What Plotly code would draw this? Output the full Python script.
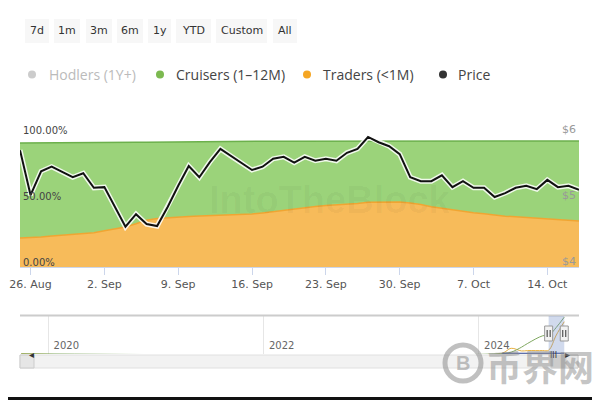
import pandas as pd
import plotly.graph_objects as go

# ------------------------------------------------------------------
# Data (daily, 25 Aug - 17 Oct 2024)
# ------------------------------------------------------------------
START_DATE = "2024-08-25"

traders = [22.0, 22.3, 22.8, 23.5, 24.2, 24.8, 25.3, 25.9, 27.5, 29.0,
           30.3, 32.8, 35.5, 36.8, 37.4, 37.9, 38.2, 38.6, 38.9, 39.2,
           39.5, 39.9, 40.2, 41.0, 42.0, 43.3, 44.2, 45.1, 45.8, 46.5,
           47.0, 47.6, 48.2, 49.1, 49.2, 49.2, 49.2, 48.5, 47.4, 45.7,
           44.5, 43.4, 42.2, 41.1, 40.3, 39.2, 38.5, 38.0, 37.5, 37.0,
           36.3, 35.7, 35.2, 34.8]

cruisers = [72.0, 71.8, 71.3, 70.7, 70.0, 69.5, 69.0, 68.5, 67.0, 65.5,
            64.2, 61.8, 59.1, 57.9, 57.4, 56.9, 56.7, 56.3, 56.1, 55.8,
            55.6, 55.2, 55.0, 54.2, 53.3, 52.0, 51.1, 50.3, 49.6, 48.9,
            48.4, 47.9, 47.3, 46.4, 46.3, 46.4, 46.4, 47.1, 48.2, 49.9,
            51.1, 52.2, 53.4, 54.6, 55.4, 56.5, 57.2, 57.7, 58.3, 58.8,
            59.5, 60.1, 60.6, 60.7]

price = [5.77, 5.09, 5.45, 5.52, 5.44, 5.36, 5.42, 5.20, 5.21, 4.91,
         4.61, 4.80, 4.65, 4.62, 4.91, 5.23, 5.53, 5.36, 5.59, 5.79,
         5.68, 5.58, 5.47, 5.52, 5.64, 5.67, 5.58, 5.67, 5.61, 5.64,
         5.61, 5.73, 5.79, 5.97, 5.89, 5.83, 5.71, 5.36, 5.30, 5.30,
         5.39, 5.21, 5.30, 5.20, 5.20, 5.06, 5.12, 5.20, 5.23, 5.18,
         5.32, 5.21, 5.23, 5.17]

dates = pd.date_range(START_DATE, periods=len(price), freq="D")

# navigator (full history, rough shape)
nav_dates = ["2019-10-01", "2024-03-15", "2024-04-20", "2024-05-25", "2024-06-15",
             "2024-08-05", "2024-08-25", "2024-09-20", "2024-10-17"]
nav_cruisers = [0.5, 1, 5, 18, 28, 48, 49, 70, 97]
nav_traders = [0.5, 1, 15, 8, 9, 9, 10, 50, 85]
nav_price_dates = ["2024-03-20", "2024-10-17"]
nav_price = [2, 2]

range_buttons = ["7d", "1m", "3m", "6m", "1y", "YTD", "Custom", "All"]
legend_items = ["Hodlers (1Y+)", "Cruisers (1–12M)", "Traders (<1M)", "Price"]
nav_years = ["2020-01-01", "2022-01-01", "2024-01-01"]

pct_ticks = [0, 50, 100]
pct_labels = ["0.00%", "50.00%", "100.00%"]
price_ticks = [4, 5, 6]
price_labels = ["$4", "$5", "$6"]

# ------------------------------------------------------------------
# Colours / helpers
# ------------------------------------------------------------------
GREEN_FILL = "rgb(155,211,122)"
GREEN_LINE = "rgb(108,176,76)"
ORANGE_FILL = "rgb(247,187,90)"
ORANGE_LINE = "rgb(240,165,50)"
FONT = "DejaVu Sans"

# page body has an 8px margin, so the figure is drawn 8px in and made smaller
OFF = 8
W, H = 600 - OFF, 400 - OFF


def px(x):
    return (x - OFF) / W


def py(y):
    return 1 - (y - OFF) / H


X0, X1 = 20, 579

fig = go.Figure()

# stacked areas
fig.add_trace(go.Scatter(x=dates, y=traders, stackgroup="one", mode="lines",
                         line=dict(color=ORANGE_LINE, width=1.5),
                         fillcolor=ORANGE_FILL, name="Traders (<1M)",
                         xaxis="x", yaxis="y"))
fig.add_trace(go.Scatter(x=dates, y=cruisers, stackgroup="one", mode="lines",
                         line=dict(color=GREEN_LINE, width=1.5),
                         fillcolor=GREEN_FILL, name="Cruisers (1–12M)",
                         xaxis="x", yaxis="y"))

# price line with white halo
fig.add_trace(go.Scatter(x=dates, y=price, mode="lines",
                         line=dict(color="rgba(255,255,255,0.85)", width=5),
                         hoverinfo="skip", xaxis="x", yaxis="y2"))
fig.add_trace(go.Scatter(x=dates, y=price, mode="lines",
                         line=dict(color="#111111", width=2),
                         name="Price", xaxis="x", yaxis="y2"))

# navigator series
fig.add_trace(go.Scatter(x=nav_dates, y=nav_traders, mode="lines",
                         line=dict(color="#e8b040", width=1), line_shape="spline",
                         xaxis="x2", yaxis="y3"))
fig.add_trace(go.Scatter(x=nav_dates, y=nav_cruisers, mode="lines",
                         line=dict(color="#7fa860", width=1), line_shape="spline",
                         xaxis="x2", yaxis="y3"))
fig.add_trace(go.Scatter(x=nav_price_dates, y=nav_price, mode="lines",
                         line=dict(color="#2a3f8f", width=1.2),
                         xaxis="x2", yaxis="y3"))

fig.update_layout(
    width=W, height=H,
    margin=dict(l=0, r=0, t=0, b=0, pad=0),
    paper_bgcolor="white", plot_bgcolor="white",
    showlegend=False,
    font=dict(family=FONT, color="#333333"),
    xaxis=dict(
        domain=[px(X0), px(X1)], anchor="y",
        range=[dates[0], dates[-1]],
        tick0="2024-08-26", dtick=7 * 24 * 3600 * 1000,
        tickformat="%-d. %b",
        showgrid=False, zeroline=False,
        showline=True, linecolor="#ccd6eb", linewidth=1,
        ticks="outside", ticklen=7, tickcolor="#ccd6eb",
        tickfont=dict(size=11, color="#555555", family=FONT),
        ticklabeloverflow="allow",
        automargin=False,
    ),
    yaxis=dict(
        domain=[py(267), py(135)], anchor="x",
        range=[0, 100], tickvals=pct_ticks, ticktext=pct_labels,
        ticklabelposition="inside", ticklabelshift=-5,
        ticklabeloverflow="allow",
        showgrid=True, gridcolor="#e6e6e6", zeroline=False,
        tickfont=dict(size=10, color="#444444", family=FONT),
        automargin=False,
    ),
    yaxis2=dict(
        overlaying="y", side="right", anchor="x",
        range=[4, 6], tickvals=price_ticks, ticktext=price_labels,
        ticklabelposition="inside", ticklabelshift=-6,
        ticklabeloverflow="allow",
        showgrid=False, zeroline=False,
        tickfont=dict(size=11, color="#999999", family=FONT),
        automargin=False,
    ),
    xaxis2=dict(
        domain=[px(X0), px(X1)], anchor="y3",
        range=["2019-09-27", "2024-12-06"],
        tickvals=nav_years, tickformat="%Y",
        ticklabelposition="inside", ticklabelshift=18,
        ticklabeloverflow="allow",
        showgrid=True, gridcolor="#e6e6e6", zeroline=False,
        showline=False, ticks="",
        tickfont=dict(size=10, color="#666666", family=FONT),
        automargin=False,
    ),
    yaxis3=dict(
        domain=[py(354), py(316)], anchor="x2",
        range=[0, 100], visible=False,
    ),
)

shapes = []
annotations = []

# range selector buttons
button_px = [(25, 49), (54, 80), (86, 112), (117, 143), (148, 171),
             (176, 211), (216, 267), (273, 297)]
for label, (a, b) in zip(range_buttons, button_px):
    shapes.append(dict(type="rect", xref="paper", yref="paper",
                       x0=px(a), x1=px(b), y0=py(43), y1=py(19),
                       fillcolor="#f7f7f7", line=dict(width=0), layer="below"))
    annotations.append(dict(xref="paper", yref="paper", x=px((a + b) / 2), y=py(31),
                            text=label, showarrow=False, xanchor="center", yanchor="middle",
                            font=dict(size=11, color="#333333", family=FONT)))

# custom legend
legend_pos = [(32, 47), (160, 174), (307, 321), (443, 456)]
legend_cols = ["#cccccc", "#7cb950", "#f5a623", "#333333"]
legend_txt = ["#bbbbbb", "#444444", "#444444", "#444444"]
for name, (cx, tx), col, tcol in zip(legend_items, legend_pos, legend_cols, legend_txt):
    shapes.append(dict(type="circle", xref="paper", yref="paper",
                       x0=px(cx - 4), x1=px(cx + 4), y0=py(78.5), y1=py(70.5),
                       fillcolor=col, line=dict(width=0)))
    annotations.append(dict(xref="paper", yref="paper", x=px(tx), y=py(74),
                            text=name, showarrow=False, xanchor="left", yanchor="middle",
                            font=dict(size=14, color=tcol, family="Open Sans")))

# faint watermark in main plot
annotations.append(dict(xref="paper", yref="paper", x=px(330), y=py(200),
                        text="<b>IntoTheBlock</b>", showarrow=False,
                        font=dict(size=38, color="rgba(0,0,0,0.035)", family="Liberation Sans")))

# navigator frame / selection
shapes.append(dict(type="line", xref="paper", yref="paper",
                   x0=px(X0), x1=px(X1), y0=py(315.5), y1=py(315.5),
                   line=dict(color="#cccccc", width=2)))
shapes.append(dict(type="rect", xref="x2", yref="paper",
                   x0=dates[0], x1=dates[-1], y0=py(354), y1=py(316),
                   fillcolor="rgba(102,133,194,0.3)", line=dict(width=0)))
for d in (dates[0], dates[-1]):
    shapes.append(dict(type="rect", xref="x2", yref="paper", xsizemode="pixel",
                       xanchor=d, x0=-4, x1=4, y0=py(341), y1=py(326),
                       fillcolor="#f2f2f2", line=dict(color="#999999", width=1)))
    for off in (-1.5, 1.5):
        shapes.append(dict(type="line", xref="x2", yref="paper", xsizemode="pixel",
                           xanchor=d, x0=off, x1=off, y0=py(337), y1=py(330),
                           line=dict(color="#333333", width=1)))

# scrollbar
shapes.append(dict(type="rect", xref="paper", yref="paper",
                   x0=px(X0), x1=px(578), y0=py(368), y1=py(355),
                   fillcolor="#f2f2f2", line=dict(color="#e0e0e0", width=1)))
shapes.append(dict(type="rect", xref="paper", yref="paper",
                   x0=px(X0), x1=px(34), y0=py(368), y1=py(355),
                   fillcolor="#e6e6e6", line=dict(color="#cccccc", width=1)))
shapes.append(dict(type="rect", xref="paper", yref="paper",
                   x0=px(551), x1=px(566), y0=py(368), y1=py(355),
                   fillcolor="#cccccc", line=dict(color="#cccccc", width=1)))
shapes.append(dict(type="rect", xref="paper", yref="paper",
                   x0=px(566), x1=px(578), y0=py(368), y1=py(355),
                   fillcolor="#e6e6e6", line=dict(color="#cccccc", width=1)))
annotations.append(dict(xref="paper", yref="paper", x=px(27), y=py(361.5), text="◂",
                        showarrow=False, font=dict(size=10, color="#333333")))
annotations.append(dict(xref="paper", yref="paper", x=px(572), y=py(361.5), text="▸",
                        showarrow=False, font=dict(size=10, color="#333333")))
annotations.append(dict(xref="paper", yref="paper", x=px(558.5), y=py(361.5), text="III",
                        showarrow=False, font=dict(size=8, color="#333333", family=FONT)))

# site watermark bottom right
shapes.append(dict(type="circle", xref="paper", yref="paper",
                   x0=px(445), x1=px(481), y0=py(381), y1=py(345),
                   fillcolor="rgba(255,255,255,0)", line=dict(color="rgba(140,140,140,0.55)", width=5)))
annotations.append(dict(xref="paper", yref="paper", x=px(463), y=py(363), text="<b>B</b>",
                        showarrow=False, xanchor="center", yanchor="middle",
                        font=dict(size=20, color="rgba(140,140,140,0.55)",
                                  family="Liberation Sans")))
annotations.append(dict(xref="paper", yref="paper", x=px(484), y=py(365), text="<b>币界网</b>",
                        showarrow=False, xanchor="left", yanchor="middle",
                        font=dict(size=36, color="rgba(140,140,140,0.5)",
                                  family="Noto Sans CJK SC")))

# dark frame edges of the screenshot
shapes.append(dict(type="rect", xref="paper", yref="paper", x0=0, x1=1,
                   y0=0, y1=py(397), fillcolor="#111111", line=dict(width=0)))
shapes.append(dict(type="rect", xref="paper", yref="paper", x0=px(597.5), x1=1,
                   y0=0, y1=1, fillcolor="#111111", line=dict(width=0)))

fig.update_layout(shapes=shapes, annotations=annotations)

fig.write_html("out.html")
